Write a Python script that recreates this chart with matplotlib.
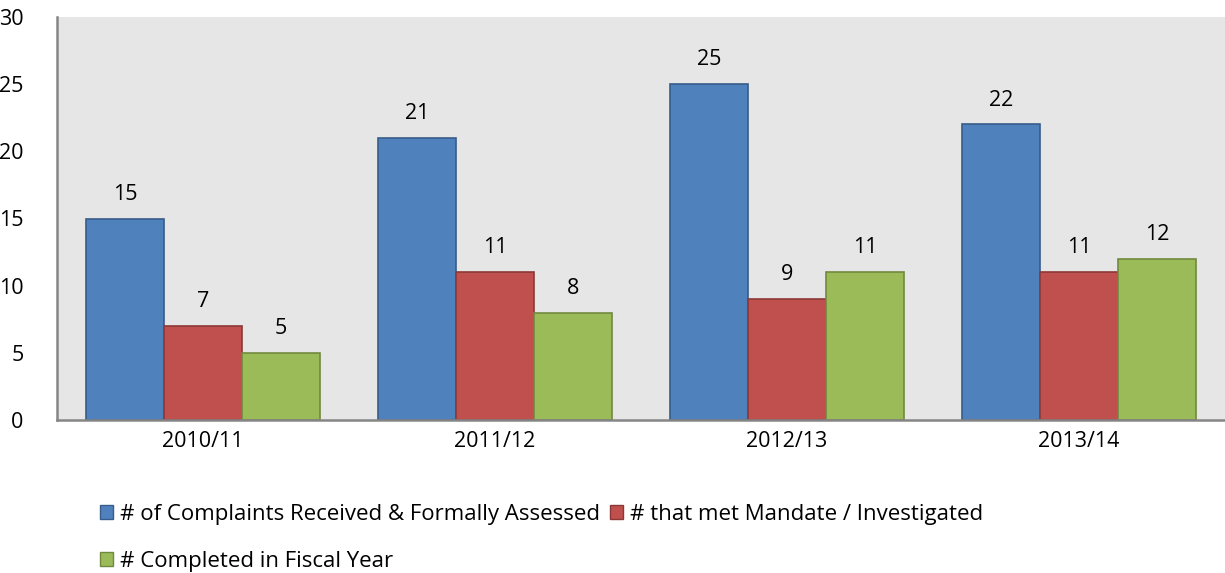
import matplotlib.pyplot as plt
import numpy as np
from matplotlib.patches import Patch

years = ['2010/11', '2011/12', '2012/13', '2013/14']
received = [15, 21, 25, 22]
investigated = [7, 11, 9, 11]
completed = [5, 8, 11, 12]

series = [
    ('# of Complaints Received & Formally Assessed', received, '#4F81BD', '#385D8A'),
    ('# that met Mandate / Investigated', investigated, '#C0504D', '#8C3836'),
    ('# Completed in Fiscal Year', completed, '#9BBB59', '#71893F'),
]

plt.rcParams['font.family'] = ['Open Sans', 'DejaVu Sans']
fs = 15.5

fig = plt.figure(figsize=(12.25, 5.73), dpi=100)
ax = fig.add_axes([57/1225, 1 - 420/573, 1168/1225, (420 - 17)/573])
ax.set_facecolor('#E6E6E6')

x = np.arange(len(years))
w = 0.8 / 3
handles = []
for i, (name, vals, col, edge) in enumerate(series):
    bars = ax.bar(x + (i - 1) * w, vals, w, color=col, edgecolor=edge, linewidth=1.2)
    for b, v in zip(bars, vals):
        ax.annotate(str(v), (b.get_x() + b.get_width() / 2, v),
                    xytext=(0, 10), textcoords='offset points',
                    ha='center', va='bottom', fontsize=fs)
    handles.append(Patch(facecolor=col, edgecolor=edge, label=name))

ax.set_xlim(-0.5, 3.5)
ax.set_ylim(0, 30)
ax.set_yticks(range(0, 31, 5))
ax.set_xticks(x)
ax.set_xticklabels(years)
ax.tick_params(axis='both', length=0, labelsize=fs)
ax.tick_params(axis='y', pad=24)
ax.tick_params(axis='x', pad=8)
for s in ['top', 'right']:
    ax.spines[s].set_visible(False)
for s in ['left', 'bottom']:
    ax.spines[s].set_color('#868686')
    ax.spines[s].set_linewidth(1.8)

# legend fills column-wise, so order handles to read blue, red / green
order = [handles[0], handles[2], handles[1]]
fig.legend(handles=order, loc='upper left', bbox_to_anchor=(89/1225, 1 - 493/573),
           ncol=2, frameon=False, fontsize=16.0, handlelength=0.6, handleheight=0.6,
           handletextpad=0.3, columnspacing=0.45, labelspacing=1.17, borderpad=0)

fig.savefig('out.png', dpi=100)
